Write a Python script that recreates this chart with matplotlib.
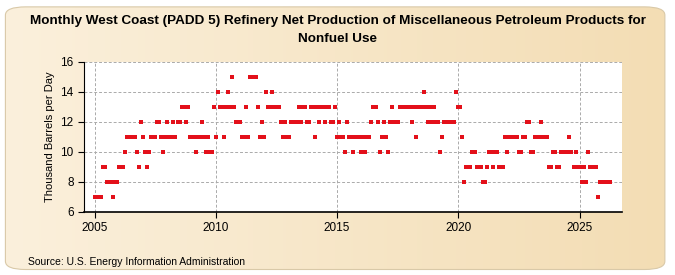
import numpy as np
import matplotlib
matplotlib.use("Agg")
import matplotlib.pyplot as plt
from matplotlib.patches import FancyBboxPatch

plt.rcParams['font.family'] = ['Liberation Sans', 'DejaVu Sans']

# monthly values, thousand barrels per day, Jan 2005 onward
v2005 = [7, 7, 7, 7, 9, 9, 8, 8, 8, 7, 8, 8]
v2006 = [9, 9, 9, 10, 11, 11, 11, 11, 11, 10, 9, 12]
v2007 = [11, 10, 9, 10, 11, 11, 11, 12, 12, 11, 10, 11]
v2008 = [12, 11, 11, 12, 11, 12, 12, 13, 13, 12, 13, 11]
v2009 = [11, 11, 10, 11, 11, 12, 11, 10, 11, 10, 10, 13]
v2010 = [11, 14, 13, 13, 11, 13, 14, 13, 15, 13, 12, 12]
v2011 = [12, 11, 11, 13, 11, 15, 15, 15, 15, 13, 11, 12]
v2012 = [11, 14, 13, 13, 14, 13, 13, 13, 12, 11, 12, 11]
v2013 = [11, 12, 12, 12, 12, 13, 12, 13, 13, 12, 12, 13]
v2014 = [13, 11, 13, 12, 13, 13, 12, 13, 13, 12, 12, 13]
v2015 = [11, 12, 11, 11, 10, 12, 11, 11, 10, 11, 11, 11]
v2016 = [10, 11, 10, 11, 11, 12, 13, 13, 12, 10, 11, 12]
v2017 = [11, 10, 12, 13, 12, 12, 12, 13, 13, 13, 13, 13]
v2018 = [13, 12, 13, 11, 13, 13, 13, 14, 13, 12, 13, 12]
v2019 = [13, 12, 12, 10, 11, 12, 12, 12, 12, 12, 12, 14]
v2020 = [13, 13, 11, 8, 9, 9, 9, 10, 10, 9, 9, 9]
v2021 = [8, 8, 9, 10, 10, 9, 10, 10, 9, 9, 9, 11]
v2022 = [10, 11, 11, 11, 11, 11, 10, 10, 11, 11, 12, 12]
v2023 = [10, 10, 11, 11, 11, 12, 11, 11, 11, 9, 9, 10]
v2024 = [10, 9, 9, 10, 10, 10, 10, 11, 10, 9, 10, 9]
v2025 = [9, 8, 9, 8, 10, 9, 9, 9, 9, 7, 8, 8]
v2026 = [8, 8, 8, 8]

values = (v2005 + v2006 + v2007 + v2008 + v2009 + v2010 + v2011 + v2012 + v2013 +
          v2014 + v2015 + v2016 + v2017 + v2018 + v2019 + v2020 + v2021 + v2022 +
          v2023 + v2024 + v2025 + v2026)
dates = 2005 + np.arange(len(values)) / 12.0

year_ticks = [2005, 2010, 2015, 2020, 2025]
y_ticks = [6, 8, 10, 12, 14, 16]

fig = plt.figure(figsize=(6.75, 2.75), dpi=100)
fig.patch.set_facecolor('white')

# beige rounded background with left-to-right gradient
bg = fig.add_axes([0, 0, 1, 1], zorder=-10)
bg.set_xlim(0, 1)
bg.set_ylim(0, 1)
bg.axis('off')
grad = np.linspace(0, 1, 256).reshape(1, -1)
cmap = matplotlib.colors.LinearSegmentedColormap.from_list('bgc', ['#FBF0DC', '#F3DDB4'])
im = bg.imshow(grad, extent=[0.008, 0.985, 0.02, 0.975], aspect='auto', cmap=cmap, zorder=1)
box = FancyBboxPatch((0.008, 0.02), 0.977, 0.955, boxstyle='round,pad=0,rounding_size=0.03',
                     transform=bg.transAxes, facecolor='none', edgecolor='#D9C9A8', lw=0.8, zorder=2)
bg.add_patch(box)
im.set_clip_path(box)

ax = fig.add_axes([84 / 675, 1 - 212 / 275, (622 - 84) / 675, 150 / 275])
ax.set_facecolor('white')
ax.plot(dates, values, linestyle='none', marker='s', markersize=3.2,
        color='#E3101A', markeredgewidth=0)

ax.set_xlim(2004.56, 2026.75)
ax.set_ylim(6, 16)
ax.set_xticks(year_ticks)
ax.set_yticks(y_ticks)
ax.grid(True, linestyle=(0, (3, 2)), color='#AAAAAA', linewidth=0.7)
ax.set_axisbelow(True)
for s in ['top', 'right']:
    ax.spines[s].set_visible(False)
ax.spines['left'].set_color('black')
ax.spines['bottom'].set_color('black')
ax.spines['bottom'].set_linewidth(1.2)
ax.tick_params(axis='both', labelsize=8.5, length=4, color='black')
ax.set_ylabel('Thousand Barrels per Day', fontsize=8)

fig.text(0.5, 0.925, 'Monthly West Coast (PADD 5) Refinery Net Production of Miscellaneous Petroleum Products for',
         ha='center', va='center', fontsize=9.7, fontweight='bold')
fig.text(0.5, 0.86, 'Nonfuel Use', ha='center', va='center', fontsize=9.7, fontweight='bold')
fig.text(28 / 675, 1 - 262 / 275, 'Source: U.S. Energy Information Administration',
         ha='left', va='center', fontsize=7.5)

fig.savefig('out.png', dpi=100)
